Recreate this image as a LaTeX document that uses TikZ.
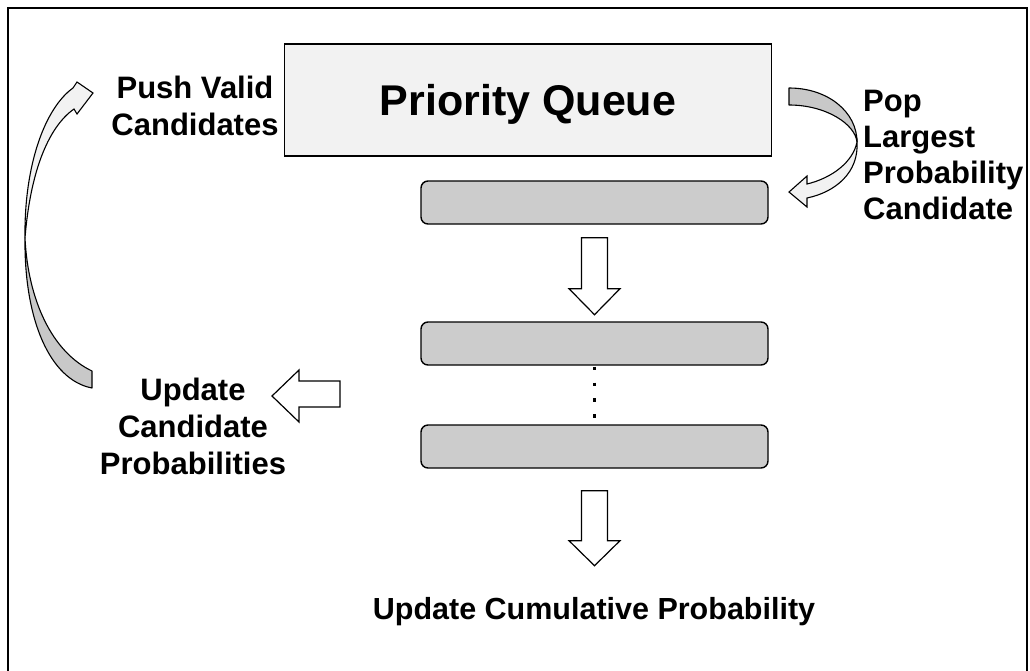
\documentclass[tikz,border=0pt]{standalone}
\usepackage{fontspec}
\setmainfont{Liberation Sans}
\definecolor{lightfill}{HTML}{F2F2F2}
\definecolor{slotfill}{HTML}{CCCCCC}
\definecolor{bandgray}{HTML}{C8C8C8}
\begin{document}
\begin{tikzpicture}[x=1pt,y=-1pt,
  frame/.style={line width=2pt},
  pqbox/.style={draw, line width=1.4pt, fill=lightfill, minimum width=487pt, minimum height=112pt, inner sep=0pt, font=\fontsize{43}{50}\selectfont\bfseries, text height=31pt, text depth=0pt},
  slot/.style={draw, line width=1.4pt, fill=slotfill, rounded corners=7pt, minimum width=347pt, minimum height=43pt, inner sep=0pt},
  lbl/.style={font=\fontsize{31}{37}\selectfont\bfseries, inner sep=0pt},
  blockarrow/.style={draw, line width=1.2pt, fill=white, line join=miter},
  backband/.style={draw, line width=1.1pt, fill=bandgray, line join=round},
  frontband/.style={draw, line width=1.1pt, fill=lightfill, line join=miter},
  dotline/.style={line width=3.5pt, dash pattern=on 3.5pt off 12.3pt}
]
\useasboundingbox (0,0) rectangle (1030,670);
\draw[frame] (8,690) -- (8,8) -- (1027,8) -- (1027,690);

% main boxes
\node[pqbox] (pq) at (528,100) {Priority Queue};
\node[slot] (b1) at (594.5,202.5) {};
\node[slot] (b2) at (594.5,343.5) {};
\node[slot] (b3) at (594.5,446.5) {};

% dots between slots
\draw[dotline] ([yshift=-1pt]b2.south) -- (b3.north);

% straight block arrows
\draw[blockarrow] ([xshift=-13pt,yshift=-13pt]b1.south) -- ++(26,0) -- ++(0,51) -- ++(12.5,0) -- ++(-25.5,26) -- ++(-25.5,-26) -- ++(12.5,0) -- cycle;
\draw[blockarrow] ([xshift=-13pt,yshift=-22pt]b3.south) -- ++(26,0) -- ++(0,50) -- ++(12.5,0) -- ++(-25.5,25) -- ++(-25.5,-25) -- ++(12.5,0) -- cycle;
\draw[blockarrow] (340,381) -- (299,381) -- (299,370) -- (272,396) -- (299,422) -- (299,407) -- (340,407) -- cycle;

% labels
\node[lbl, align=center, anchor=north] (push) at (195,75.5) {Push Valid\\Candidates};
\node[lbl, font=\fontsize{31}{36}\selectfont\bfseries, align=left, anchor=north west] (pop) at (863,90) {Pop\\Largest\\Probability\\Candidate};
\node[lbl, align=center, anchor=north] (upd) at (193,378) {Update\\Candidate\\Probabilities};
\node[lbl, font=\fontsize{30.5}{36}\selectfont\bfseries, anchor=base] (cum) at (594,619) {Update Cumulative Probability};

% curved arrow: pop (right side)
\draw[backband] (789,88) .. controls (828,88) and (857,112) .. (857,142) .. controls (855,124) and (826,105) .. (789,105) -- cycle;
\draw[frontband] (857,142) .. controls (859,172) and (836,192) .. (807,198) -- (807,207) -- (789,192) -- (807,176) -- (807,184) .. controls (832,178) and (853,162) .. (857,142) -- cycle;

% curved arrow: push (left side)
\draw[backband] (92,388) .. controls (50,380) and (24,320) .. (25,238) .. controls (28,300) and (52,352) .. (92,371) -- cycle;
\draw[frontband] (25,238) .. controls (24,165) and (45,108) .. (73,88) -- (77,82) -- (93,93) -- (77,114) -- (74,109) .. controls (47,128) and (30,175) .. (25,238) -- cycle;
\end{tikzpicture}
\end{document}
